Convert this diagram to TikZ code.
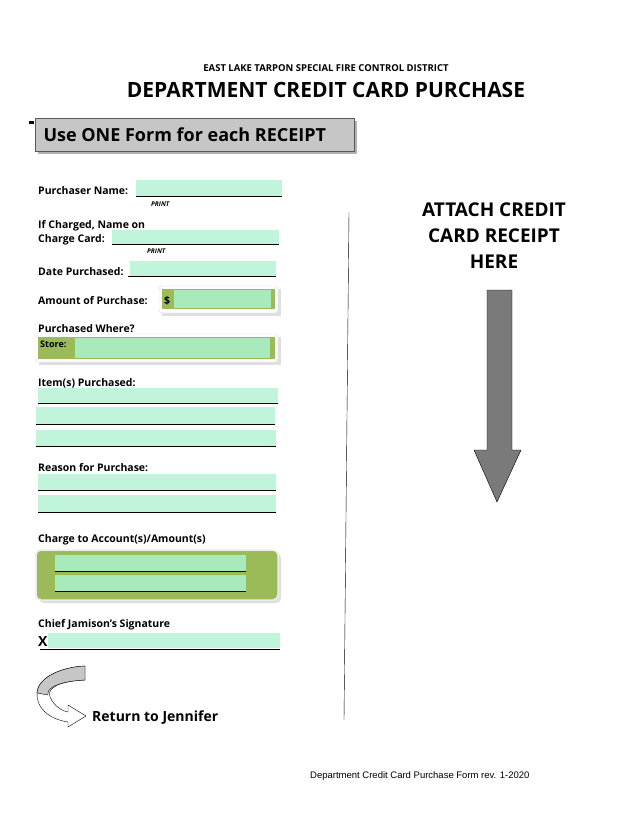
\documentclass[tikz,border=0pt]{standalone}
\usepackage{fontspec}
\setmainfont{Open Sans}
\newfontfamily\footfont{Liberation Sans}
\begin{document}
\begin{tikzpicture}[x=1pt,y=-1pt,
  lbl/.style={anchor=base west,inner sep=0pt,font=\fontsize{10.5}{12}\selectfont\bfseries},
  fld/.style={fill=mintfld,draw=none},
  prt/.style={anchor=base west,inner sep=0pt,font=\fontsize{6.5}{7}\selectfont\bfseries\itshape}]
\definecolor{mintfld}{HTML}{C0F5DC}
\definecolor{olive}{HTML}{9BBB59}
\definecolor{mint2}{HTML}{A8EABB}
\useasboundingbox[fill=white] (0,0) rectangle (640,828);
% titles
\node (t1) at (326,68) {\fontsize{9.5}{11}\selectfont\bfseries EAST LAKE TARPON SPECIAL FIRE CONTROL DISTRICT};
\node (t2) at (326,90) {\fontsize{21}{24}\selectfont\bfseries DEPARTMENT CREDIT CARD PURCHASE};
% gray box
\fill[black] (29,121) rectangle (34,124);
\fill[gray!60] (38,121) rectangle (357,154);
\draw[fill=gray!45,draw=gray!70!black] (35,118) rectangle (354,151);
\node[anchor=west] (use) at (40,134.5) {\fontsize{18}{20}\selectfont\bfseries Use ONE Form for each RECEIPT};
% purchaser name
\fill[fld] (136,180) rectangle (282,196);
\draw (136,196.5) -- (282,196.5);
\node[lbl] (pn) at (38,194) {Purchaser Name:};
\node[prt] (p1) at (151,206) {PRINT};
% charged
\node[lbl] (ic) at (38,228) {If Charged, Name on};
\node[lbl] (cc) at (38,242) {Charge Card:};
\fill[fld] (112,230) rectangle (279,244);
\draw (112,244.5) -- (279,244.5);
\node[prt] (p2) at (147,253) {PRINT};
% date
\node[lbl] (dp) at (38,275) {Date Purchased:};
\fill[fld] (130,261) rectangle (276,276);
\draw (128,276.5) -- (276,276.5);
% amount
\node[lbl] (ap) at (38,304) {Amount of Purchase:};
\fill[gray!25] (162,289) rectangle (281,316);
\draw[fill=white,draw=gray!30,rounded corners=3] (159,286) rectangle (278,313);
\fill[olive] (162,289) rectangle (275,309);
\fill[mint2] (174,290) rectangle (271,308);
\node[lbl] (dl) at (164,304) {\$};
% store
\node[lbl] (pw) at (38,332) {Purchased Where?};
\fill[gray!25] (39,337) rectangle (281,365);
\draw[fill=white,draw=gray!30,rounded corners=3] (35,334) rectangle (278,362);
\fill[olive] (38,337) rectangle (275,359);
\fill[mint2] (75,338) rectangle (270,358);
\node[anchor=base west,inner sep=0pt,font=\fontsize{9}{10}\selectfont\bfseries] (st) at (40,347) {Store:};
% items
\node[lbl] (it) at (38,386) {Item(s) Purchased:};
\fill[fld] (38,388) rectangle (278,403); \draw (38,403.5) -- (278,403.5);
\fill[fld] (36,407) rectangle (275,424); \draw (36,424.5) -- (275,424.5);
\fill[fld] (36,430) rectangle (276,446); \draw (36,446.5) -- (276,446.5);
% reason
\node[lbl] (rp) at (38,471) {Reason for Purchase:};
\fill[fld] (38,474) rectangle (276,490); \draw (38,490.5) -- (276,490.5);
\fill[fld] (38,495) rectangle (276,512); \draw (38,512.5) -- (276,512.5);
% charge to account
\node[lbl] (ca) at (38,542) {Charge to Account(s)/Amount(s)};
\fill[gray!25,rounded corners=5] (39,553) rectangle (281,603);
\draw[fill=olive,draw=gray!15,line width=1.5pt,rounded corners=5] (36,550) rectangle (278,600);
\fill[mint2] (55,555) rectangle (246,571); \draw[line width=0.8pt] (55,571.5) -- (246,571.5);
\fill[mint2] (55,575) rectangle (246,591); \draw[line width=0.8pt] (55,591.5) -- (246,591.5);
% signature
\node[lbl] (cj) at (38,627) {Chief Jamison’s Signature};
\fill[fld] (48,633) rectangle (280,648);
\draw (40,649) -- (280,649);
\node[anchor=base west,inner sep=0pt,font=\fontsize{14}{15}\selectfont\bfseries] (x) at (38,646) {X};
% curved arrow
\draw[fill=white,line join=round] (85,666) -- (85,680) .. controls (62,681) and (46,687) .. (50,697) .. controls (54,706) and (62,711) .. (68,712) -- (68,705) -- (86,716) -- (68,727) -- (68,722) .. controls (48,719) and (36,707) .. (37,693) .. controls (38,677) and (62,667) .. cycle;
\draw[fill=gray!45] (85,666) -- (85,680) .. controls (62,681) and (46,687) .. (48,695) -- (37,693) .. controls (38,677) and (62,667) .. cycle;
\node[anchor=base west,inner sep=0pt,font=\fontsize{14}{16}\selectfont\bfseries] (rj) at (92,721) {Return to Jennifer};
% vertical line
\draw (349,212) -- (344,720);
% attach
\node[align=center,font=\fontsize{19}{26}\selectfont\bfseries] (at) at (494,236) {ATTACH CREDIT\\CARD RECEIPT\\HERE};
\draw[fill=gray!70!black!80] (487,290) -- (512,290) -- (512,450) -- (521,450) -- (497,502) -- (474,450) -- (487,450) -- cycle;
% footer
\node[anchor=base west,inner sep=0pt,font=\footfont\fontsize{9.5}{11}\selectfont] (ft) at (310,778) {Department Credit Card Purchase Form rev. 1-2020};
\end{tikzpicture}
\end{document}
